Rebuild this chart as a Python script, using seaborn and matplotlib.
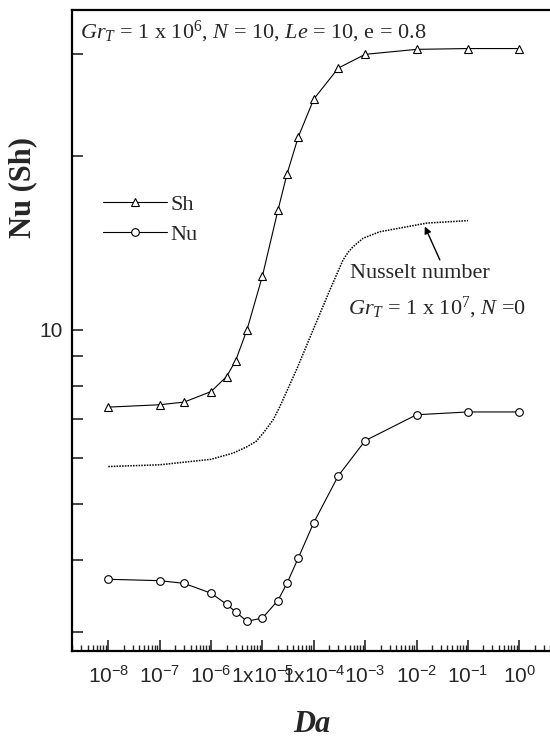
import matplotlib
matplotlib.use("Agg")
import matplotlib.pyplot as plt
import seaborn as sns
import numpy as np
import pandas as pd
from matplotlib.ticker import FixedLocator, LogLocator, NullFormatter, FixedFormatter, NullLocator

# ---- data ----
da = [1e-8, 1e-7, 3e-7, 1e-6, 2e-6, 3e-6, 5e-6, 1e-5, 2e-5, 3e-5, 5e-5,
      1e-4, 3e-4, 1e-3, 1e-2, 1e-1, 1.0]
sh = [7.35, 7.42, 7.50, 7.82, 8.30, 8.84, 10.0, 12.4, 16.1, 18.6, 21.6,
      25.1, 28.4, 30.0, 30.6, 30.7, 30.7]
nu = [3.70, 3.68, 3.64, 3.50, 3.35, 3.25, 3.13, 3.17, 3.40, 3.64, 4.03,
      4.64, 5.59, 6.43, 7.13, 7.21, 7.21]

da_ref = [1e-8, 1e-7, 1e-6, 2.7e-6, 4.9e-6, 7.5e-6, 1.04e-5, 1.62e-5, 2.19e-5,
          4.6e-5, 9.7e-5, 2.06e-4, 3.7e-4, 4.67e-4, 5.8e-4, 9.1e-4, 1.93e-3,
          1.6e-2, 1e-1]
nu_ref = [5.80, 5.84, 5.97, 6.12, 6.27, 6.41, 6.63, 6.99, 7.37,
          8.53, 10.0, 11.73, 13.21, 13.63, 13.93, 14.41, 14.79,
          15.31, 15.46]

x_ticks = [1e-8, 1e-7, 1e-6, 1e-5, 1e-4, 1e-3, 1e-2, 1e-1, 1e0]
x_labels = [r"$\mathregular{10^{-8}}$", r"$\mathregular{10^{-7}}$", r"$\mathregular{10^{-6}}$",
            r"$\mathregular{1x10^{-5}}$", r"$\mathregular{1x10^{-4}}$", r"$\mathregular{10^{-3}}$",
            r"$\mathregular{10^{-2}}$", r"$\mathregular{10^{-1}}$", r"$\mathregular{10^{0}}$"]
y_ticks = [3, 4, 5, 6, 7, 8, 9, 10, 20, 30]
y_labels = ["", "", "", "", "", "", "", "10", "", ""]

# ---- style ----
sns.set_style("ticks")
plt.rcParams["font.family"] = ["Liberation Serif", "DejaVu Serif"]
plt.rcParams["mathtext.fontset"] = "custom"
plt.rcParams["mathtext.rm"] = "Liberation Serif"
plt.rcParams["mathtext.it"] = "Liberation Serif:italic"
plt.rcParams["mathtext.bf"] = "Liberation Serif:bold"
plt.rcParams["mathtext.sf"] = "Liberation Sans"
plt.rcParams["axes.unicode_minus"] = False

W, H = 550, 738
fig = plt.figure(figsize=(W / 100, H / 100), dpi=100)
left_px, right_px, top_px, bot_px = 72.4, 555.2, 10, 651
ax = fig.add_axes([left_px / W, 1 - bot_px / H, (right_px - left_px) / W, (bot_px - top_px) / H])

df_sh = pd.DataFrame({"Da": da, "val": sh})
df_nu = pd.DataFrame({"Da": da, "val": nu})
df_ref = pd.DataFrame({"Da": da_ref, "val": nu_ref})

sns.lineplot(data=df_ref, x="Da", y="val", ax=ax, color="black", linewidth=1.1,
             linestyle=(0, (1, 0.8)), legend=False)
sns.lineplot(data=df_sh, x="Da", y="val", ax=ax, color="black", linewidth=0.8,
             marker="^", markersize=5.5, markerfacecolor="white", markeredgecolor="black",
             markeredgewidth=0.8, label="Sh")
sns.lineplot(data=df_nu, x="Da", y="val", ax=ax, color="black", linewidth=0.8,
             marker="o", markersize=5.5, markerfacecolor="white", markeredgecolor="black",
             markeredgewidth=0.8, label="Nu")

ax.set_xscale("log")
ax.set_yscale("log")
ax.set_xlim(2e-9, 5)
ax.set_ylim(2.78, 35.8)

ax.xaxis.set_major_locator(FixedLocator(x_ticks))
ax.xaxis.set_major_formatter(FixedFormatter(x_labels))
ax.xaxis.set_minor_locator(LogLocator(base=10, subs=np.arange(2, 10), numticks=30))
ax.xaxis.set_minor_formatter(NullFormatter())
ax.yaxis.set_major_locator(FixedLocator(y_ticks))
ax.yaxis.set_major_formatter(FixedFormatter(y_labels))
ax.yaxis.set_minor_locator(NullLocator())

ax.tick_params(axis="x", which="major", direction="in", length=8, width=1.2, pad=10,
               labelsize=15, labelfontfamily="Liberation Sans", top=False)
ax.tick_params(axis="x", which="minor", direction="in", length=4, width=1.0, top=False)
ax.tick_params(axis="y", which="major", direction="in", length=8, width=1.2, pad=7,
               labelsize=15, labelfontfamily="Liberation Sans", right=False)
for s in ax.spines.values():
    s.set_linewidth(1.6)
    s.set_color("black")

ax.set_xlabel("")
ax.set_ylabel("")
fig.text(23 / W, 1 - 188 / H, "Nu (Sh)", rotation=90, ha="center", va="center",
         fontsize=22, fontweight="bold", family="Liberation Serif")
fig.text(312 / W, 1 - 724 / H, "Da", ha="center", va="center",
         fontsize=22, fontweight="bold", style="italic", family="Liberation Serif")

fig.text(80 / W, 1 - 38 / H, r"$Gr_T$ = 1 x 10$^{6}$, $N$ = 10, $Le$ = 10, e = 0.8",
         ha="left", va="baseline", fontsize=16, family="Liberation Serif")

ax.text(5.0e-4, 12.3, "Nusselt number", ha="left", va="baseline", fontsize=16,
        family="Liberation Serif")
ax.text(4.6e-4, 10.62, r"$Gr_T$ = 1 x 10$^{7}$, $N$ =0", ha="left", va="baseline",
        fontsize=16, family="Liberation Serif")
ax.annotate("", xy=(1.45e-2, 15.1), xytext=(2.84e-2, 13.22),
            arrowprops=dict(arrowstyle="-|>", color="black", lw=1.0, mutation_scale=10,
                            shrinkA=0, shrinkB=0))

leg = ax.legend(loc="upper left", bbox_to_anchor=(103 / W, 1 - 194 / H),
                bbox_transform=fig.transFigure, frameon=False, fontsize=16,
                handlelength=2.9, handletextpad=0.15, labelspacing=0.45,
                borderpad=0, borderaxespad=0)

fig.savefig("out.png", dpi=100)
